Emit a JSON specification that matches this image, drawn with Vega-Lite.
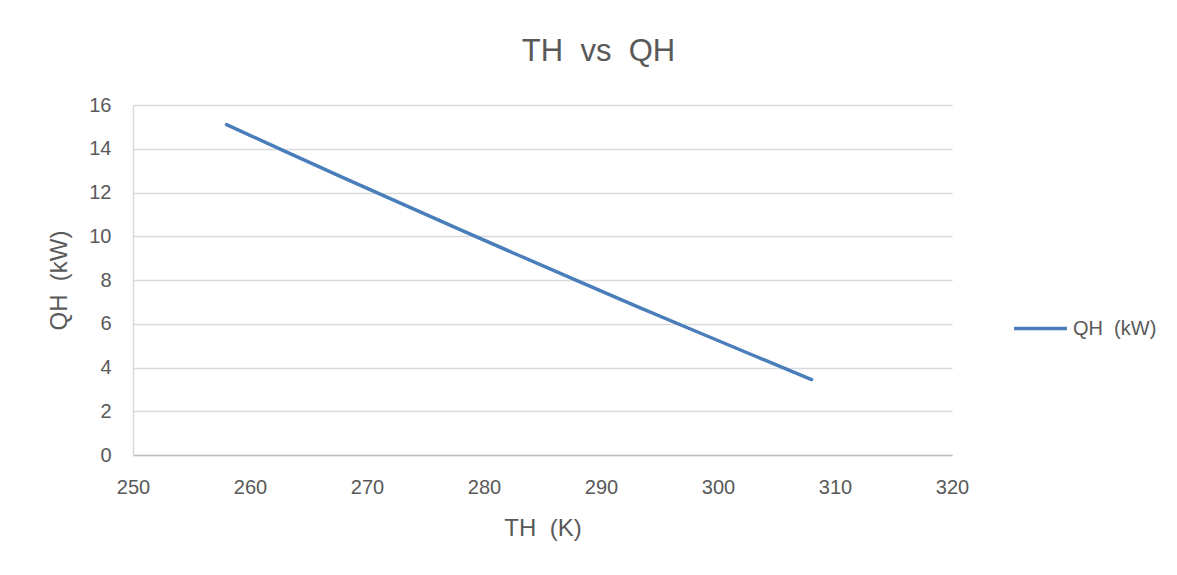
{
  "$schema": "https://vega.github.io/schema/vega-lite/v6.json",
  "autosize": {"type": "none"},
  "padding": {"left": 133, "top": 105, "right": 225, "bottom": 120},
  "width": 819,
  "height": 350,
  "background": "white",
  "title": {
    "text": "TH\u00a0 vs\u00a0 QH",
    "frame": "group",
    "anchor": "middle",
    "dx": 56,
    "dy": 40,
    "offset": 43,
    "baseline": "alphabetic",
    "fontSize": 31,
    "font": "Liberation Sans",
    "fontWeight": "normal",
    "color": "#595959"
  },
  "data": {
    "values": [
      {"TH": 258, "QH": 15.10, "series": "QH\u00a0 (kW)"},
      {"TH": 263, "QH": 13.88, "series": "QH\u00a0 (kW)"},
      {"TH": 268, "QH": 12.67, "series": "QH\u00a0 (kW)"},
      {"TH": 273, "QH": 11.48, "series": "QH\u00a0 (kW)"},
      {"TH": 278, "QH": 10.29, "series": "QH\u00a0 (kW)"},
      {"TH": 283, "QH": 9.12, "series": "QH\u00a0 (kW)"},
      {"TH": 288, "QH": 7.96, "series": "QH\u00a0 (kW)"},
      {"TH": 293, "QH": 6.81, "series": "QH\u00a0 (kW)"},
      {"TH": 298, "QH": 5.68, "series": "QH\u00a0 (kW)"},
      {"TH": 303, "QH": 4.56, "series": "QH\u00a0 (kW)"},
      {"TH": 308, "QH": 3.45, "series": "QH\u00a0 (kW)"}
    ]
  },
  "mark": {"type": "line", "strokeWidth": 3.5, "strokeCap": "round", "clip": false},
  "encoding": {
    "x": {
      "field": "TH",
      "type": "quantitative",
      "scale": {"domain": [250, 320], "nice": false, "zero": false},
      "axis": {
        "title": "TH\u00a0 (K)",
        "values": [250, 260, 270, 280, 290, 300, 310, 320],
        "grid": false,
        "ticks": false,
        "labelFlush": false,
        "domainColor": "#bfbfbf",
        "domainWidth": 1.5,
        "labelPadding": 22,
        "labelFontSize": 20,
        "labelColor": "#595959",
        "labelFont": "Liberation Sans",
        "titleFont": "Liberation Sans",
        "titleFontSize": 24,
        "titleFontWeight": "normal",
        "titleColor": "#595959",
        "titleBaseline": "alphabetic",
        "titleY": 80
      }
    },
    "y": {
      "field": "QH",
      "type": "quantitative",
      "scale": {"domain": [0, 16], "nice": false},
      "axis": {
        "title": "QH\u00a0 (kW)",
        "values": [0, 2, 4, 6, 8, 10, 12, 14, 16],
        "grid": true,
        "gridColor": "#d9d9d9",
        "gridWidth": 1.5,
        "ticks": false,
        "domainColor": "#d9d9d9",
        "domainWidth": 1.5,
        "labelPadding": 22,
        "labelFontSize": 20,
        "labelColor": "#595959",
        "labelFont": "Liberation Sans",
        "titleFont": "Liberation Sans",
        "titleFontSize": 24,
        "titleFontWeight": "normal",
        "titleColor": "#595959",
        "titleAngle": -90,
        "titleBaseline": "alphabetic",
        "titleX": -67,
        "titleY": 175
      }
    },
    "color": {
      "field": "series",
      "type": "nominal",
      "scale": {"range": ["#4A7EBB"]},
      "legend": {
        "title": null,
        "orient": "none",
        "legendX": 879,
        "legendY": 195,
        "symbolType": "stroke",
        "symbolSize": 2800,
        "symbolStrokeWidth": 3.5,
        "labelFontSize": 20,
        "labelFont": "Liberation Sans",
        "labelColor": "#595959",
        "labelOffset": 4
      }
    }
  },
  "config": {
    "view": {"stroke": null}
  }
}
